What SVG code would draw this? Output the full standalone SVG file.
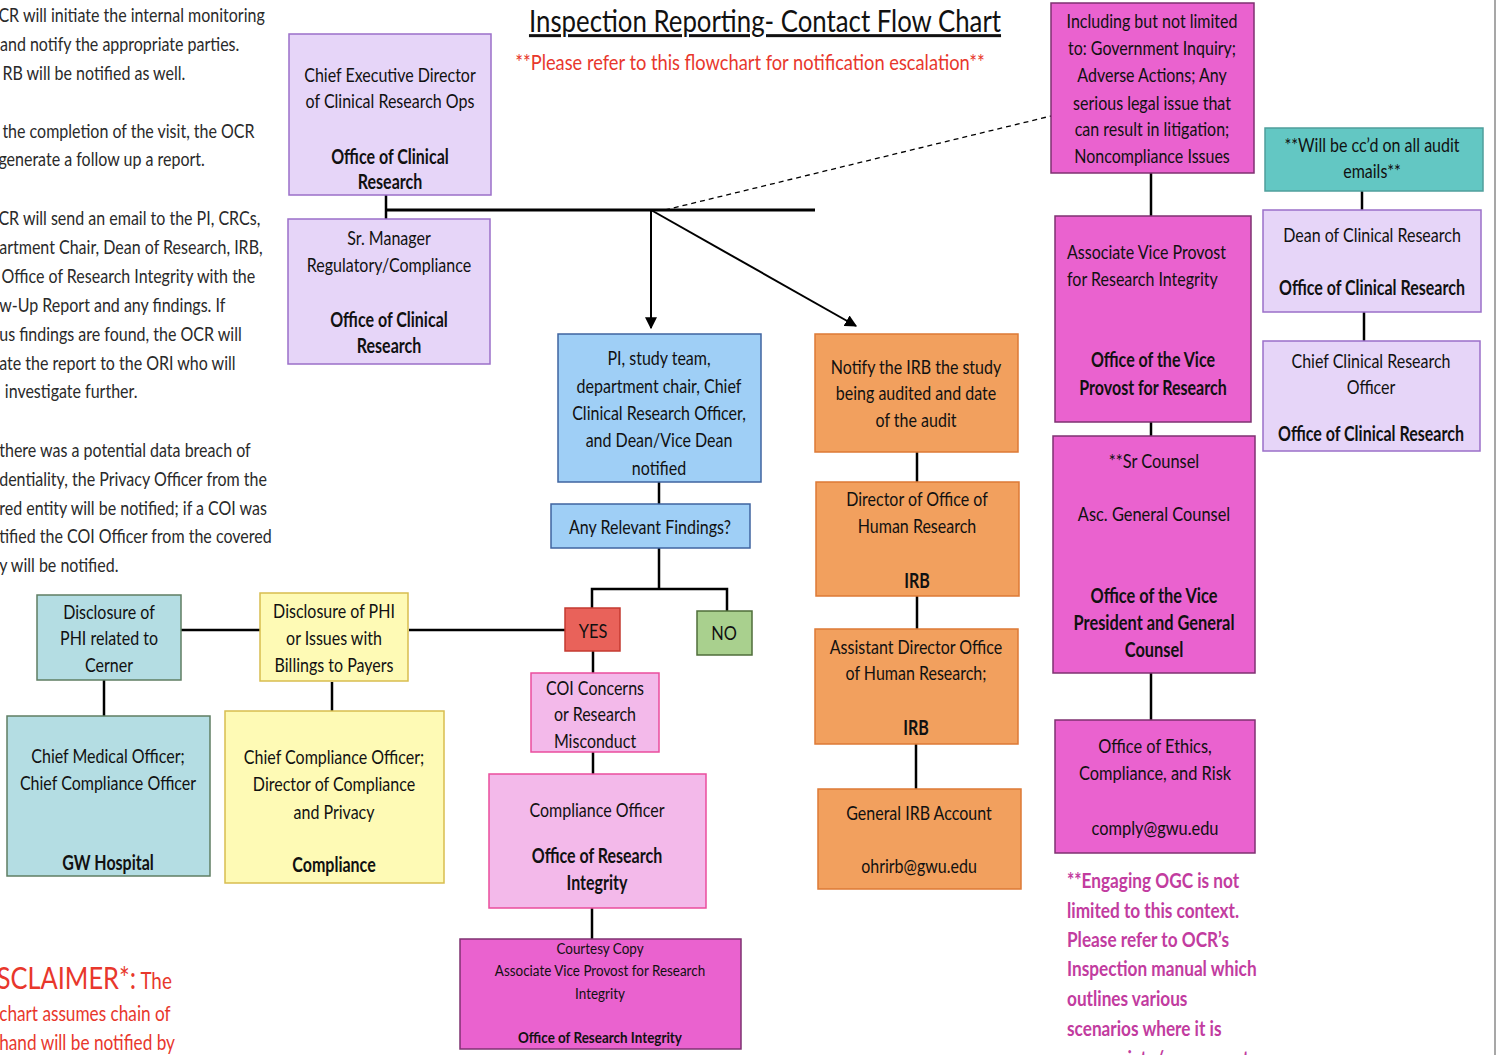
<svg xmlns="http://www.w3.org/2000/svg" width="1497" height="1055" viewBox="0 0 1497 1055">
<defs>
<style>
text{font-family:Lato,"Open Sans","Liberation Sans",sans-serif;font-size:20px;fill:#111}
.c text{text-anchor:middle}
.b{font-weight:bold}
.lav{fill:#e6d5f8;stroke:#9b6fc9;stroke-width:1.5}
.blu{fill:#9fcff6;stroke:#3f64a0;stroke-width:1.5}
.org{fill:#f2a05e;stroke:#dd7a36;stroke-width:1.5}
.mag{fill:#ea62cf;stroke:#7f3272;stroke-width:1.5}
.pnk{fill:#f3b9ea;stroke:#ea4d9d;stroke-width:1.5}
.tea{fill:#63c7c3;stroke:#4f9f9c;stroke-width:1.5}
.cer{fill:#b4dde3;stroke:#5f7e63;stroke-width:1.5}
.yel{fill:#fefab5;stroke:#d8bd4f;stroke-width:1.5}
.yes{fill:#e9625a;stroke:#c43a30;stroke-width:1.5}
.no{fill:#a9d08e;stroke:#4f6d3a;stroke-width:1.5}
.ln{stroke:#000;stroke-width:2.5;fill:none}
.para text{fill:#2a2a2a}
.red text{fill:#e8372c}
.note text{fill:#c23c9f;font-weight:bold;font-size:21px}
.sm text{font-size:16px}
</style>
<marker id="ah" viewBox="0 0 10 10" refX="9" refY="5" markerWidth="6" markerHeight="6" orient="auto" markerUnits="strokeWidth">
<path d="M0,0 L10,5 L0,10 z" fill="#000"/>
</marker>
</defs>
<rect x="0" y="0" width="1497" height="1055" fill="#fff"/>
<line x1="1495" y1="0" x2="1495" y2="1055" stroke="#8a8a8a" stroke-width="1.5"/>

<g id="para" class="para" transform="translate(0 0) scale(0.8 1)">
<text x="-2" y="22">CR will initiate the internal monitoring</text>
<text x="0" y="51">and notify the appropriate parties.</text>
<text x="3" y="80">RB will be notified as well.</text>
<text x="3" y="138">the completion of the visit, the OCR</text>
<text x="-2" y="166">generate a follow up a report.</text>
<text x="-2" y="225">CR will send an email to the PI, CRCs,</text>
<text x="-1" y="254">artment Chair, Dean of Research, IRB,</text>
<text x="2" y="283">Office of Research Integrity with the</text>
<text x="-1" y="312">w-Up Report and any findings. If</text>
<text x="-1" y="341">us findings are found, the OCR will</text>
<text x="-1" y="370">ate the report to the ORI who will</text>
<text x="6" y="398">investigate further.</text>
<text x="-1" y="457">there was a potential data breach of</text>
<text x="-1" y="486">dentiality, the Privacy Officer from the</text>
<text x="-1" y="515">red entity will be notified; if a COI was</text>
<text x="-1" y="543">tified the COI Officer from the covered</text>
<text x="-1" y="572">y will be notified.</text>
</g>

<g id="title" class="c" transform="translate(765 0) scale(0.86 1)">
<text y="32" style="font-size:30px" text-decoration="underline">Inspection Reporting- Contact Flow Chart</text>
</g>
<g id="subtitle" class="c red" transform="translate(750 0) scale(0.87 1)">
<text y="70" style="font-size:21px">**Please refer to this flowchart for notification escalation**</text>
</g>

<g id="disclaimer" class="red" transform="translate(0 0) scale(0.82 1)">
<text x="-4" y="989"><tspan style="font-size:31px">SCLAIMER*:</tspan><tspan style="font-size:23px"> The</tspan></text>
<text x="-1" y="1021" style="font-size:21px">chart assumes chain of</text>
<text x="-1" y="1050" style="font-size:21px">hand will be notified by</text>
</g>

<g id="connectors">
<line class="ln" x1="386" y1="195" x2="386" y2="219"/>
<line class="ln" x1="386" y1="210" x2="815" y2="210" style="stroke-width:3"/>
<line class="ln" x1="651" y1="210" x2="651" y2="328" style="stroke-width:2" marker-end="url(#ah)"/>
<line class="ln" x1="651" y1="210" x2="856" y2="326" style="stroke-width:2" marker-end="url(#ah)"/>
<line x1="665" y1="210" x2="1051" y2="116" stroke="#000" stroke-width="1.3" stroke-dasharray="5 4"/>
<line class="ln" x1="659" y1="482" x2="659" y2="504"/>
<polyline class="ln" points="659,548 659,589"/>
<polyline class="ln" points="592,608 592,589 727,589 727,611"/>
<line class="ln" x1="181" y1="630" x2="260" y2="630"/>
<line class="ln" x1="409" y1="630" x2="565" y2="630"/>
<line class="ln" x1="104" y1="680" x2="104" y2="716"/>
<line class="ln" x1="332" y1="682" x2="332" y2="711"/>
<line class="ln" x1="593" y1="651" x2="593" y2="673"/>
<line class="ln" x1="593" y1="752" x2="593" y2="774"/>
<line class="ln" x1="592" y1="908" x2="592" y2="939"/>
<line class="ln" x1="917" y1="452" x2="917" y2="482"/>
<line class="ln" x1="917" y1="596" x2="917" y2="629"/>
<line class="ln" x1="916" y1="744" x2="916" y2="789"/>
<line class="ln" x1="1151" y1="173" x2="1151" y2="216"/>
<line class="ln" x1="1151" y1="422" x2="1151" y2="436"/>
<line class="ln" x1="1151" y1="673" x2="1151" y2="720"/>
<line class="ln" x1="1362" y1="191" x2="1362" y2="210"/>
<line class="ln" x1="1364" y1="312" x2="1364" y2="341"/>
</g>

<g id="n-ced">
<rect class="lav" x="289" y="34" width="202" height="161"/>
<g class="c" transform="translate(390 0) scale(0.8 1)">
<text y="82">Chief Executive Director</text>
<text y="108">of Clinical Research Ops</text>
<text y="164" class="b">Office of Clinical</text>
<text y="189" class="b">Research</text>
</g>
</g>

<g id="n-srm">
<rect class="lav" x="288" y="219" width="202" height="145"/>
<g class="c" transform="translate(389 0) scale(0.8 1)">
<text y="245">Sr. Manager</text>
<text y="272">Regulatory/Compliance</text>
<text y="327" class="b">Office of Clinical</text>
<text y="353" class="b">Research</text>
</g>
</g>

<g id="n-pi">
<rect class="blu" x="558" y="334" width="203" height="148"/>
<g class="c" transform="translate(659 0) scale(0.8 1)">
<text y="365">PI, study team,</text>
<text y="393">department chair, Chief</text>
<text y="420">Clinical Research Officer,</text>
<text y="447">and Dean/Vice Dean</text>
<text y="475">notified</text>
</g>
</g>

<g id="n-findings">
<rect class="blu" x="551" y="504" width="199" height="44"/>
<g class="c" transform="translate(650 0) scale(0.8 1)">
<text y="534">Any Relevant Findings?</text>
</g>
</g>

<g id="n-yes">
<rect class="yes" x="565" y="608" width="55" height="43"/>
<g class="c" transform="translate(593 0) scale(0.82 1)"><text y="638">YES</text></g>
</g>

<g id="n-no">
<rect class="no" x="697" y="611" width="55" height="44"/>
<g class="c" transform="translate(724 0) scale(0.82 1)"><text y="640">NO</text></g>
</g>

<g id="n-cerner">
<rect class="cer" x="37" y="595" width="144" height="85"/>
<g class="c" transform="translate(109 0) scale(0.8 1)">
<text y="619">Disclosure of</text>
<text y="645">PHI related to</text>
<text y="672">Cerner</text>
</g>
</g>

<g id="n-gwh">
<rect class="cer" x="7" y="716" width="203" height="160"/>
<g class="c" transform="translate(108 0) scale(0.8 1)">
<text y="763">Chief Medical Officer;</text>
<text y="790">Chief Compliance Officer</text>
<text y="870" class="b">GW Hospital</text>
</g>
</g>

<g id="n-phi">
<rect class="yel" x="260" y="593" width="148" height="88"/>
<g class="c" transform="translate(334 0) scale(0.8 1)">
<text y="618">Disclosure of PHI</text>
<text y="645">or Issues with</text>
<text y="672">Billings to Payers</text>
</g>
</g>

<g id="n-compliance">
<rect class="yel" x="225" y="711" width="219" height="172"/>
<g class="c" transform="translate(334 0) scale(0.8 1)">
<text y="764">Chief Compliance Officer;</text>
<text y="791">Director of Compliance</text>
<text y="819">and Privacy</text>
<text y="872" class="b">Compliance</text>
</g>
</g>

<g id="n-coi">
<rect class="pnk" x="531" y="673" width="128" height="79"/>
<g class="c" transform="translate(595 0) scale(0.8 1)">
<text y="695">COI Concerns</text>
<text y="721">or Research</text>
<text y="748">Misconduct</text>
</g>
</g>

<g id="n-co">
<rect class="pnk" x="489" y="774" width="217" height="134"/>
<g class="c" transform="translate(597 0) scale(0.8 1)">
<text y="817">Compliance Officer</text>
<text y="863" class="b">Office of Research</text>
<text y="890" class="b">Integrity</text>
</g>
</g>

<g id="n-courtesy">
<rect class="mag" x="460" y="939" width="281" height="110"/>
<g class="c sm" transform="translate(600 0) scale(0.84 1)">
<text y="954">Courtesy Copy</text>
<text y="976">Associate Vice Provost for Research</text>
<text y="999">Integrity</text>
<text y="1043" class="b">Office of Research Integrity</text>
</g>
</g>

<g id="n-notify">
<rect class="org" x="815" y="334" width="203" height="118"/>
<g class="c" transform="translate(916 0) scale(0.8 1)">
<text y="374">Notify the IRB the study</text>
<text y="400">being audited and date</text>
<text y="427">of the audit</text>
</g>
</g>

<g id="n-director">
<rect class="org" x="816" y="482" width="203" height="114"/>
<g class="c" transform="translate(917 0) scale(0.8 1)">
<text y="506">Director of Office of</text>
<text y="533">Human Research</text>
<text y="588" class="b">IRB</text>
</g>
</g>

<g id="n-asst">
<rect class="org" x="815" y="629" width="203" height="115"/>
<g class="c" transform="translate(916 0) scale(0.8 1)">
<text y="654">Assistant Director Office</text>
<text y="680">of Human Research;</text>
<text y="735" class="b">IRB</text>
</g>
</g>

<g id="n-irbacct">
<rect class="org" x="818" y="789" width="203" height="100"/>
<g class="c" transform="translate(919 0) scale(0.8 1)">
<text y="820">General IRB Account</text>
<text y="873">ohrirb@gwu.edu</text>
</g>
</g>

<g id="n-including">
<rect class="mag" x="1051" y="3" width="203" height="170"/>
<g class="c" transform="translate(1152 0) scale(0.8 1)">
<text y="28">Including but not limited</text>
<text y="55">to: Government Inquiry;</text>
<text y="82">Adverse Actions; Any</text>
<text y="110">serious legal issue that</text>
<text y="136">can result in litigation;</text>
<text y="163">Noncompliance Issues</text>
</g>
</g>

<g id="n-avp">
<rect class="mag" x="1055" y="216" width="196" height="206"/>
<g transform="translate(1067 0) scale(0.8 1)">
<text x="0" y="259">Associate Vice Provost</text>
<text x="0" y="286">for Research Integrity</text>
</g>
<g class="c" transform="translate(1153 0) scale(0.8 1)">
<text y="367" class="b">Office of the Vice</text>
<text y="395" class="b">Provost for Research</text>
</g>
</g>

<g id="n-counsel">
<rect class="mag" x="1053" y="436" width="202" height="237"/>
<g class="c" transform="translate(1154 0) scale(0.82 1)">
<text y="468">**Sr Counsel</text>
<text y="521">Asc. General Counsel</text>
<text y="603" class="b">Office of the Vice</text>
<text y="630" class="b">President and General</text>
<text y="657" class="b">Counsel</text>
</g>
</g>

<g id="n-ethics">
<rect class="mag" x="1055" y="720" width="200" height="133"/>
<g class="c" transform="translate(1155 0) scale(0.82 1)">
<text y="753">Office of Ethics,</text>
<text y="780">Compliance, and Risk</text>
<text y="835">comply@gwu.edu</text>
</g>
</g>

<g id="note" class="note" transform="translate(1067 0) scale(0.82 1)">
<text x="0" y="888">**Engaging OGC is not</text>
<text x="0" y="918">limited to this context.</text>
<text x="0" y="947">Please refer to OCR’s</text>
<text x="0" y="976">Inspection manual which</text>
<text x="0" y="1006">outlines various</text>
<text x="0" y="1036">scenarios where it is</text>
<text x="0" y="1066">appropriate/necessary to</text>
</g>

<g id="n-cc">
<rect class="tea" x="1265" y="128" width="218" height="63"/>
<g class="c" transform="translate(1372 0) scale(0.8 1)">
<text y="152">**Will be cc’d on all audit</text>
<text y="178">emails**</text>
</g>
</g>

<g id="n-dean">
<rect class="lav" x="1263" y="210" width="218" height="102"/>
<g class="c" transform="translate(1372 0) scale(0.8 1)">
<text y="242">Dean of Clinical Research</text>
<text y="295" class="b">Office of Clinical Research</text>
</g>
</g>

<g id="n-ccro">
<rect class="lav" x="1263" y="341" width="217" height="110"/>
<g class="c" transform="translate(1371 0) scale(0.8 1)">
<text y="368">Chief Clinical Research</text>
<text y="394">Officer</text>
<text y="441" class="b">Office of Clinical Research</text>
</g>
</g>
</svg>
